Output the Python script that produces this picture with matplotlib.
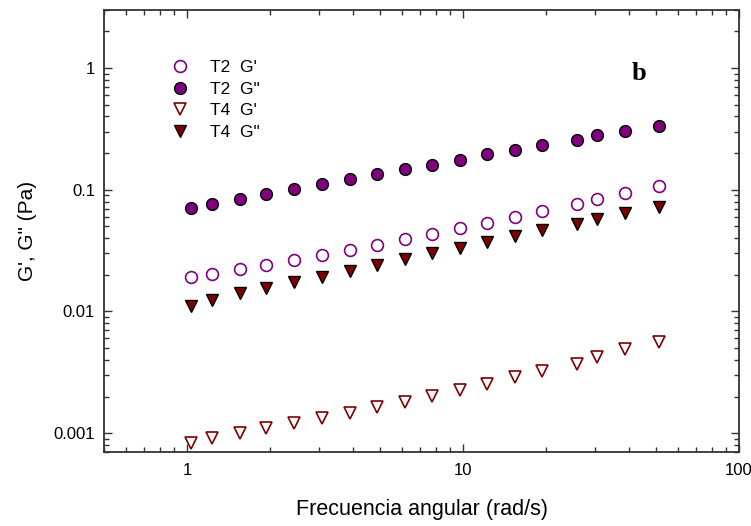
import matplotlib
matplotlib.use("Agg")
import matplotlib.pyplot as plt
from matplotlib.ticker import LogLocator, NullFormatter, FixedLocator, FixedFormatter

plt.rcParams['font.family'] = ['Liberation Sans', 'DejaVu Sans']

freq = [1.03, 1.23, 1.55, 1.94, 2.45, 3.08, 3.88, 4.88, 6.15, 7.73, 9.72,
        12.2, 15.4, 19.3, 25.8, 30.6, 38.5, 51.4]
t2_gp = [0.0191, 0.0205, 0.0222, 0.0243, 0.0265, 0.0289, 0.0318, 0.0352, 0.0392,
         0.0434, 0.0482, 0.0537, 0.0601, 0.0673, 0.0758, 0.0844, 0.0944, 0.107]
t2_gpp = [0.0703, 0.0768, 0.0844, 0.0927, 0.102, 0.111, 0.122, 0.135, 0.147,
          0.161, 0.177, 0.195, 0.213, 0.234, 0.255, 0.281, 0.306, 0.337]
t4_gp = [0.000832, 0.000909, 0.001005, 0.001104, 0.001213, 0.001334, 0.001478,
         0.001634, 0.001819, 0.002023, 0.002266, 0.002536, 0.002877, 0.003266,
         0.003698, 0.004254, 0.004887, 0.005600]
t4_gpp = [0.01116, 0.01242, 0.01410, 0.01549, 0.01734, 0.01929, 0.02148, 0.02392,
          0.02678, 0.02999, 0.03334, 0.03713, 0.04157, 0.04656, 0.05186, 0.05765,
          0.06417, 0.07227]

labels = ["T2  G'", 'T2  G"', "T4  G'", 'T4  G"']
x_ticks = [1, 10, 100]
x_ticklabels = ['1', '10', '100']
y_ticks = [0.001, 0.01, 0.1, 1]
y_ticklabels = ['0.001', '0.01', '0.1', '1']

purple = '#800080'
darkred = '#800000'

fig = plt.figure(figsize=(7.51, 5.26), dpi=100)
ax = fig.add_axes([104/751, 1-452/526, (739-104)/751, (452-10)/526])

ax.plot(freq, t2_gp, 'o', ms=8.5, mfc='white', mec=purple, mew=1.2, label=labels[0], ls='none')
ax.plot(freq, t2_gpp, 'o', ms=8.5, mfc=purple, mec='black', mew=1.0, label=labels[1], ls='none')
ax.plot(freq, t4_gp, 'v', ms=8, mfc='white', mec=darkred, mew=1.2, label=labels[2], ls='none')
ax.plot(freq, t4_gpp, 'v', ms=8, mfc=darkred, mec='black', mew=1.0, label=labels[3], ls='none')

ax.set_xscale('log')
ax.set_yscale('log')
ax.set_xlim(0.5, 100)
ax.set_ylim(0.0007, 3)

ax.xaxis.set_major_locator(FixedLocator(x_ticks))
ax.xaxis.set_major_formatter(FixedFormatter(x_ticklabels))
ax.yaxis.set_major_locator(FixedLocator(y_ticks))
ax.yaxis.set_major_formatter(FixedFormatter(y_ticklabels))
ax.xaxis.set_minor_locator(LogLocator(base=10, subs=range(2, 10), numticks=20))
ax.yaxis.set_minor_locator(LogLocator(base=10, subs=range(2, 10), numticks=20))
ax.xaxis.set_minor_formatter(NullFormatter())
ax.yaxis.set_minor_formatter(NullFormatter())

ax.tick_params(which='both', direction='in', top=True, right=True, width=1.0, colors='#333333', labelcolor='black')
ax.tick_params(which='major', length=6, labelsize=12)
ax.tick_params(axis='x', which='major', pad=8)
ax.tick_params(axis='y', which='major', pad=6.5)
ax.tick_params(which='minor', length=3.5)
for s in ax.spines.values():
    s.set_linewidth(1.3)
    s.set_color('#333333')

ax.set_xlabel('Frecuencia angular (rad/s)', fontsize=15.5, labelpad=15)
ax.set_ylabel("G', G\" (Pa)", fontsize=15, labelpad=12)

ax.legend(loc='upper left', bbox_to_anchor=(0.081, 0.902), frameon=False,
          fontsize=12.5, numpoints=1, labelspacing=0.36, handlelength=2.0,
          handletextpad=0.75, borderpad=0.4, borderaxespad=0)

fig.text(639/751, 1-74/526, 'b', fontsize=19, fontweight='bold',
         family='Liberation Serif', ha='center', va='center')

fig.savefig('out.png', dpi=100)
